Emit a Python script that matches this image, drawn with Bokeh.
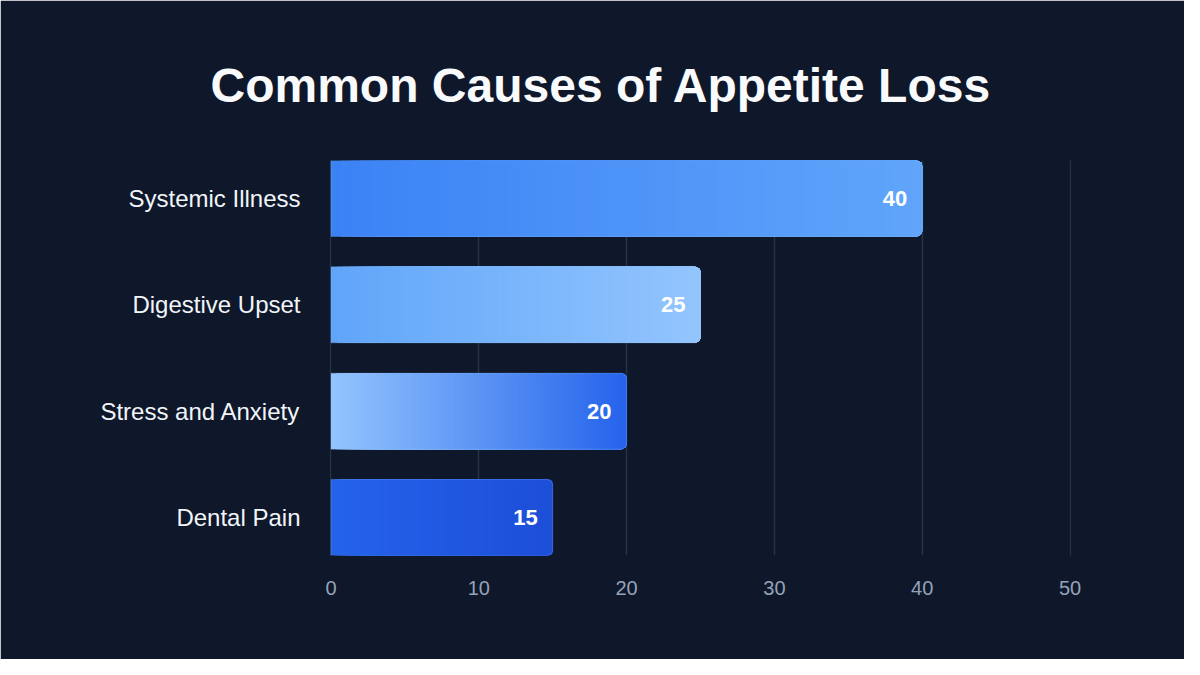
import numpy as np
from bokeh.plotting import figure
from bokeh.models import ColumnDataSource, Range1d, FixedTicker
from bokeh.core.properties import value
from bokeh.embed import file_html
from bokeh.resources import INLINE

# data
causes = ["Systemic Illness", "Digestive Upset", "Stress and Anxiety", "Dental Pain"]
counts = [40, 25, 20, 15]
x_ticks = [0, 10, 20, 30, 40, 50]

# gradient stops for each bar (left -> right)
grad_start = ["#3b82f6", "#60a5fa", "#93c5fd", "#2563eb"]
grad_end = ["#60a5fa", "#93c5fd", "#2563eb", "#1d4ed8"]

BG = "#0f172a"
FONT = "Liberation Sans"
BAR_H = 0.715
N_STEPS = 60


def hex_to_rgb(h):
    h = h.lstrip("#")
    return np.array([int(h[i:i + 2], 16) for i in (0, 2, 4)], dtype=float)


def mix(c0, c1, t):
    c = hex_to_rgb(c0) * (1 - t) + hex_to_rgb(c1) * t
    return "#%02x%02x%02x" % tuple(int(round(v)) for v in c)


# build gradient slices: each slice runs from its start to the bar end,
# drawn left to right so the later ones cover the earlier ones
ys = list(range(len(causes)))
sl_left, sl_right, sl_y, sl_color = [], [], [], []
for y, v, c0, c1 in zip(ys, counts, grad_start, grad_end):
    for k in range(N_STEPS):
        sl_left.append(v * k / N_STEPS)
        sl_right.append(v)
        sl_y.append(y)
        sl_color.append(mix(c0, c1, (k + 0.5) / N_STEPS))

slices = ColumnDataSource(dict(left=sl_left, right=sl_right, y=sl_y, color=sl_color))
bars = ColumnDataSource(dict(y=ys, count=counts, label=[str(c) for c in counts]))

# a hair of padding so the 0 and 50 grid lines are not clipped by the frame
p = figure(width=1184, height=659, output_backend="svg", toolbar_location=None,
           x_range=Range1d(-0.1, 50.1),
           y_range=Range1d(len(causes) - 1 + BAR_H / 2, -BAR_H / 2),
           title="Common Causes of Appetite Loss",
           min_border_left=329, min_border_right=113,
           min_border_top=160, min_border_bottom=104,
           outline_line_color=BG)

p.background_fill_color = BG
p.border_fill_color = BG

p.title.text_font = FONT
p.title.text_font_size = "48px"
p.title.text_font_style = "bold"
p.title.text_color = "#f8fafc"
p.title.align = "left"
p.title.offset = -119
p.title.standoff = 98

p.hbar(y="y", left="left", right="right", height=BAR_H, source=slices,
       fill_color="color", line_color=None, border_radius=(0, 6, 6, 0))
p.hbar(y="y", left=0, right="count", height=BAR_H, source=bars,
       fill_color=None, line_color="#93c5fd", line_alpha=0.25, line_width=1,
       border_radius=(0, 6, 6, 0))

p.text(x="count", y="y", text="label", source=bars, x_offset=-15,
       text_align="right", text_baseline="middle", text_color="white",
       text_font=value(FONT), text_font_size="22px", text_font_style="bold")

# grid
p.ygrid.grid_line_color = None
p.xgrid.ticker = FixedTicker(ticks=x_ticks)
p.xgrid.grid_line_color = "#263245"
p.xgrid.grid_line_width = 1.5
p.xgrid.level = "underlay"

# x axis
p.xaxis.ticker = FixedTicker(ticks=x_ticks)
p.xaxis.axis_line_color = None
p.xaxis.major_tick_line_color = None
p.xaxis.minor_tick_line_color = None
p.xaxis.major_tick_out = 0
p.xaxis.major_label_standoff = 25
p.xaxis.major_label_text_color = "#94a3b8"
p.xaxis.major_label_text_font = FONT
p.xaxis.major_label_text_font_size = "20px"

# y axis
p.yaxis.ticker = FixedTicker(ticks=ys)
p.yaxis.major_label_overrides = {i: name for i, name in zip(ys, causes)}
p.yaxis.axis_line_color = None
p.yaxis.major_tick_line_color = None
p.yaxis.minor_tick_line_color = None
p.yaxis.major_tick_out = 0
p.yaxis.major_label_standoff = 29
p.yaxis.major_label_text_color = "#f1f5f9"
p.yaxis.major_label_text_font = FONT
p.yaxis.major_label_text_font_size = "24px"

open("out.html", "w").write(file_html(p, INLINE))
